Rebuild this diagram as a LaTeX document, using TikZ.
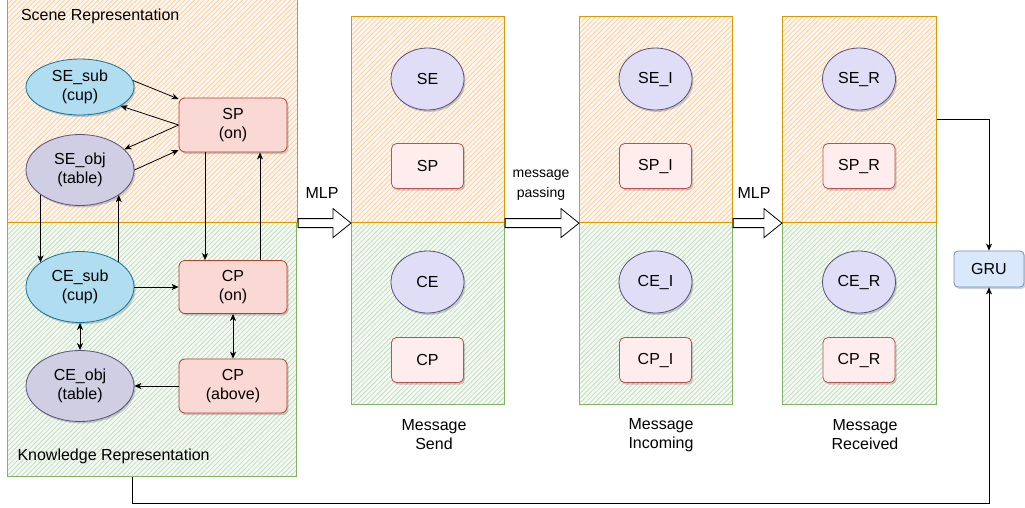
\documentclass[tikz,border=0pt]{standalone}
\usepackage{fontspec}
\setmainfont{Liberation Sans}
\usetikzlibrary{shapes.geometric,patterns.meta,shadows,calc,arrows.meta}
\definecolor{orS}{HTML}{D79B00}
\definecolor{orF}{HTML}{FFF7EF}
\definecolor{orH}{HTML}{FBCFA2}
\definecolor{grS}{HTML}{82B366}
\definecolor{grF}{HTML}{F4F9F3}
\definecolor{grH}{HTML}{C2DDBE}
\definecolor{cupF}{HTML}{B1DDF0}
\definecolor{cupS}{HTML}{10739E}
\definecolor{tabF}{HTML}{D0CEE2}
\definecolor{tabS}{HTML}{56517E}
\definecolor{relF}{HTML}{FAD9D5}
\definecolor{relS}{HTML}{AE4132}
\definecolor{msgEF}{HTML}{DFDEF6}
\definecolor{msgRF}{HTML}{FFEDED}
\definecolor{msgRS}{HTML}{B85450}
\definecolor{gruF}{HTML}{DAE8FC}
\definecolor{gruS}{HTML}{6C8EBF}
\newcommand{\blkarrow}[2]{%
  \draw[blk] ($(#1)+(0,-4.5)$) -- ($(#2)+(-18,-4.5)$) -- ($(#2)+(-18,-14.5)$) -- (#2)
    -- ($(#2)+(-18,14.5)$) -- ($(#2)+(-18,4.5)$) -- ($(#1)+(0,4.5)$) -- cycle;}
\begin{document}
\begin{tikzpicture}[x=1pt,y=-1pt,font=\fontsize{16}{19}\selectfont,
  ornbox/.style={draw=orS,line width=1.1pt,preaction={fill=orF},
    pattern={Lines[angle=45,distance=3.4pt,line width=0.8pt]},pattern color=orH,
    inner sep=0pt,anchor=north west},
  grnbox/.style={draw=grS,line width=1.1pt,preaction={fill=grF},
    pattern={Lines[angle=45,distance=3.4pt,line width=0.8pt]},pattern color=grH,
    inner sep=0pt,anchor=north west},
  shad/.style={drop shadow={shadow xshift=1.5pt,shadow yshift=-2pt,opacity=0.18,fill=black}},
  cupent/.style={ellipse,draw=cupS,fill=cupF,line width=0.8pt,inner sep=0pt,
    minimum width=108pt,align=center,shad},
  tabent/.style={ellipse,draw=tabS,fill=tabF,line width=0.8pt,inner sep=0pt,
    minimum width=108pt,minimum height=71pt,align=center,shad},
  relbox/.style={rectangle,rounded corners=6pt,draw=relS,fill=relF,line width=0.8pt,
    minimum width=108pt,minimum height=54pt,inner sep=0pt,align=center,shad},
  msgent/.style={ellipse,draw=tabS,fill=msgEF,line width=0.8pt,inner sep=0pt,
    minimum width=73pt,minimum height=62pt,shad},
  msgrel/.style={rectangle,rounded corners=5pt,draw=msgRS,fill=msgRF,line width=0.8pt,
    minimum width=72pt,minimum height=45pt,inner sep=0pt,shad},
  grubox/.style={rectangle,rounded corners=4pt,draw=gruS,fill=gruF,line width=0.8pt,
    minimum width=70pt,minimum height=36pt,inner sep=0pt,shad},
  arr/.style={-{Stealth[length=7pt,width=6pt,inset=2pt]},line width=0.8pt,draw=black},
  biarr/.style={{Stealth[length=7pt,width=6pt,inset=2pt]}-{Stealth[length=7pt,width=6pt,inset=2pt]},line width=0.8pt,draw=black},
  blk/.style={draw=black,fill=white,line width=0.8pt,line join=miter}
]
\path[use as bounding box] (0,0) rectangle (1025,507);
\clip (0,0) rectangle (1025,507);

% left composite
\node[grnbox,minimum width=289pt,minimum height=254pt] (know) at (7,222) {};
\node[ornbox,minimum width=290pt,minimum height=226pt] (scene) at (7,-4) {};
\node[anchor=west] (scenelbl) at (17.5,16) {Scene Representation};
\node[anchor=west] (knowlbl) at (14,456) {Knowledge Representation};

\node[cupent,minimum height=56pt] (sesub) at (80,87) {SE\_sub\\(cup)};
\node[tabent] (seobj) at (80,170) {SE\_obj\\(table)};
\node[relbox] (sp) at (233,125) {SP\\(on)};
\node[cupent,minimum height=71pt] (cesub) at (80,287) {CE\_sub\\(cup)};
\node[tabent] (ceobj) at (80,386) {CE\_obj\\(table)};
\node[relbox,minimum height=53pt] (cpon) at (233,287) {CP\\(on)};
\node[relbox] (cpabove) at (233,386) {CP\\(above)};

\draw[arr] (sesub.7) -- ([yshift=26pt]sp.west);
\draw[arr] (sp.west) -- (sesub.-25);
\draw[arr] (sp.west) -- (seobj.25);
\draw[arr] (seobj.east) -- ([yshift=-25pt]sp.west);
\draw[arr] (seobj.-148) -- (seobj.-148 |- cesub.148);
\draw[arr] (cesub.33) -- (cesub.33 |- seobj.-33);
\draw[arr] ([xshift=-28pt]sp.south) -- ([xshift=-28pt]cpon.north);
\draw[arr] ([xshift=27pt]cpon.north) -- ([xshift=27pt]sp.south);
\draw[arr] (cesub) -- (cpon);
\draw[biarr] (cpon) -- (cpabove);
\draw[biarr] (cesub) -- (ceobj);
\draw[arr] (cpabove) -- (ceobj);

% message boxes
\node[grnbox,minimum width=153pt,minimum height=182pt] (aK) at (351,222) {};
\node[ornbox,minimum width=153pt,minimum height=206pt] (aS) at (351,16) {};
\node[grnbox,minimum width=153pt,minimum height=182pt] (bK) at (579,222) {};
\node[ornbox,minimum width=153pt,minimum height=206pt] (bS) at (579,16) {};
\node[grnbox,minimum width=154pt,minimum height=182pt] (cK) at (782,222) {};
\node[ornbox,minimum width=154pt,minimum height=206pt] (cS) at (782,16) {};

\node[msgent] (seA) at (427.5,79) {SE};
\node[msgrel] (spA) at (427.5,166) {SP};
\node[msgent] (ceA) at (427.5,282) {CE};
\node[msgrel] (cpA) at (427.5,360) {CP};
\node[msgent] (seB) at (655.5,79) {SE\_I};
\node[msgrel] (spB) at (655.5,166) {SP\_I};
\node[msgent] (ceB) at (655.5,282) {CE\_I};
\node[msgrel] (cpB) at (655.5,360) {CP\_I};
\node[msgent] (seC) at (859,79) {SE\_R};
\node[msgrel] (spC) at (859,166) {SP\_R};
\node[msgent] (ceC) at (859,282) {CE\_R};
\node[msgrel] (cpC) at (859,360) {CP\_R};

\node[align=center] (lblA) at (434,435) {Message\\Send};
\node[align=center] (lblB) at (661,435) {Message\\Incoming};
\node[align=center] (lblC) at (865,435) {Message\\Received};

% block arrows
\blkarrow{scene.south east}{aS.south west}
\blkarrow{aS.south east}{bS.south west}
\blkarrow{bS.south east}{cS.south west}
\node (mlp1) at (322,193) {MLP};
\node[align=center,font=\fontsize{14}{20}\selectfont] (mp) at (541,185) {message\\passing};
\node (mlp2) at (754,193) {MLP};

% GRU
\node[grubox] (gru) at (989,269) {GRU};
\draw[arr] (cS.east) -| (gru.north);
\coordinate (botL) at ([xshift=-19.5pt]know.south);
\coordinate (botY) at (0,503);
\draw[arr] (botL) -- (botL |- botY) -| (gru.south);
\end{tikzpicture}
\end{document}
